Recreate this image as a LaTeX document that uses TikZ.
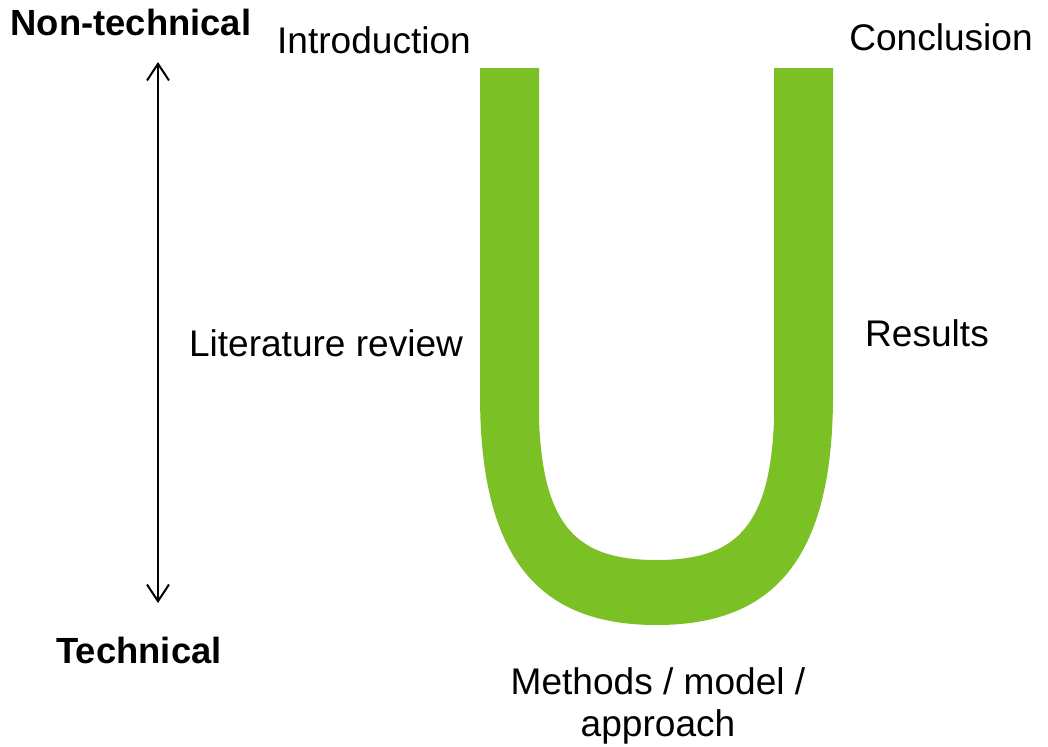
\documentclass[tikz,border=0pt]{standalone}
\usepackage{fontspec}
\setmainfont{Liberation Sans}
\usetikzlibrary{arrows.meta}
\definecolor{ink}{HTML}{000000}
\definecolor{leaf}{HTML}{7BC024}
\tikzset{
  base/.style={font=\fontsize{27.8}{32}\selectfont, text=ink, inner sep=0pt},
  level/.style={base, font=\bfseries\fontsize{27.3}{32}\selectfont},
  part/.style={base, align=center},
  levelarrow/.style={{Straight Barb[length=12.5pt,width=16.5pt,line width=1.5pt]}-{Straight Barb[length=12.5pt,width=16.5pt,line width=1.5pt]}, line width=1.5pt, draw=ink},
}
\begin{document}
\begin{tikzpicture}[x=0.75pt,y=-0.75pt]
  \useasboundingbox (0,0) rectangle (1048,746);

  % the U track
  \fill[leaf] (480,68) -- (480,395)
    .. controls (480,560) and (540,625) .. (656.5,625)
    .. controls (773,625) and (833,560) .. (833,395)
    -- (833,68) -- (774,68) -- (774,420)
    .. controls (770,530) and (733,560) .. (656.5,560)
    .. controls (580,560) and (543,530) .. (539,420)
    -- (539,68) -- cycle;

  % technical level scale
  \node[level] (nontech) at (131,22) {Non-technical};
  \node[level] (tech) at (139,650) {Technical};
  \coordinate (scaletop) at (158,62);
  \coordinate (scalebot) at (158,603);
  \draw[levelarrow] (scaletop) -- (scalebot);

  % sections
  \node[part] (intro) at (374,40) {Introduction};
  \node[part] (lit) at (326,343) {Literature review};
  \node[part] (methods) at (658,706) {Methods / model /\\approach};
  \node[part] (results) at (927,333) {Results};
  \node[part] (concl) at (941,37) {Conclusion};
\end{tikzpicture}
\end{document}
